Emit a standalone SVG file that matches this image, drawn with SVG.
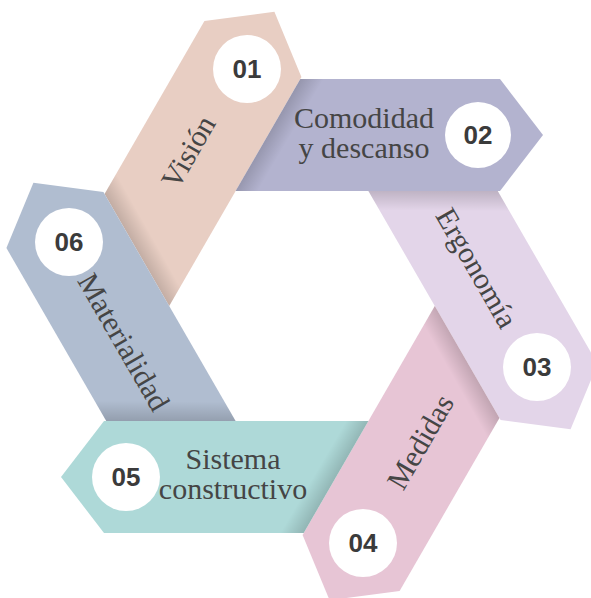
<svg xmlns="http://www.w3.org/2000/svg" width="591" height="598" viewBox="0 0 591 598">
<style>
.lbl{font-family:"Liberation Serif","Times New Roman",serif;font-size:30px;fill:#454545;text-anchor:middle}
.num{font-family:"Liberation Sans",Arial,sans-serif;font-size:26px;font-weight:bold;fill:#3b3b3b;text-anchor:middle}
.dot{fill:#ffffff}
</style>
<defs>
<polygon id="strip" points="300.3,79 500,79 543,135 500,191 235.6,191"/>
<linearGradient id="sh" gradientUnits="userSpaceOnUse" x1="268" y1="135" x2="285" y2="145">
<stop offset="0" stop-color="#000" stop-opacity="0.16"/>
<stop offset="1" stop-color="#000" stop-opacity="0"/>
</linearGradient>
</defs>
<rect width="591" height="598" fill="#ffffff"/>
<g id="connectors"/>
<g id="node01">
<use href="#strip" fill="#E8CEC3" transform="rotate(-60 302 306)"/>
<use href="#strip" fill="url(#sh)" transform="rotate(-60 302 306)"/>
<circle class="dot" cx="247" cy="69" r="34"/>
<text class="num" x="247" y="78">01</text>
<text class="lbl" transform="translate(197 157) rotate(-60)">Visión</text>
</g>
<g id="node02">
<use href="#strip" fill="#B3B3CF"/>
<use href="#strip" fill="url(#sh)"/>
<circle class="dot" cx="478" cy="135" r="33"/>
<text class="num" x="478" y="144">02</text>
<text class="lbl" x="364" y="128">Comodidad<tspan x="364" y="158">y descanso</tspan></text>
</g>
<g id="node03">
<use href="#strip" fill="#E3D5E9" transform="rotate(60 302 306)"/>
<use href="#strip" fill="url(#sh)" transform="rotate(60 302 306)"/>
<circle class="dot" cx="537" cy="367" r="34"/>
<text class="num" x="537" y="376">03</text>
<text class="lbl" transform="translate(468 273) rotate(60)">Ergonomía</text>
</g>
<g id="node04">
<use href="#strip" fill="#E7C5D5" transform="rotate(120 302 306)"/>
<use href="#strip" fill="url(#sh)" transform="rotate(120 302 306)"/>
<circle class="dot" cx="363" cy="543" r="34"/>
<text class="num" x="363" y="552">04</text>
<text class="lbl" transform="translate(429 447) rotate(-60)">Medidas</text>
</g>
<g id="node05">
<use href="#strip" fill="#AED9D8" transform="rotate(180 302 306)"/>
<use href="#strip" fill="url(#sh)" transform="rotate(180 302 306)"/>
<circle class="dot" cx="126" cy="477" r="34"/>
<text class="num" x="126" y="486">05</text>
<text class="lbl" x="233" y="469">Sistema<tspan x="233" y="499">constructivo</tspan></text>
</g>
<g id="node06">
<use href="#strip" fill="#B0BDD0" transform="rotate(240 302 306)"/>
<use href="#strip" fill="url(#sh)" transform="rotate(240 302 306)"/>
<circle class="dot" cx="69" cy="242" r="34"/>
<text class="num" x="69" y="251">06</text>
<text class="lbl" transform="translate(115 347) rotate(60)">Materialidad</text>
</g>
</svg>
